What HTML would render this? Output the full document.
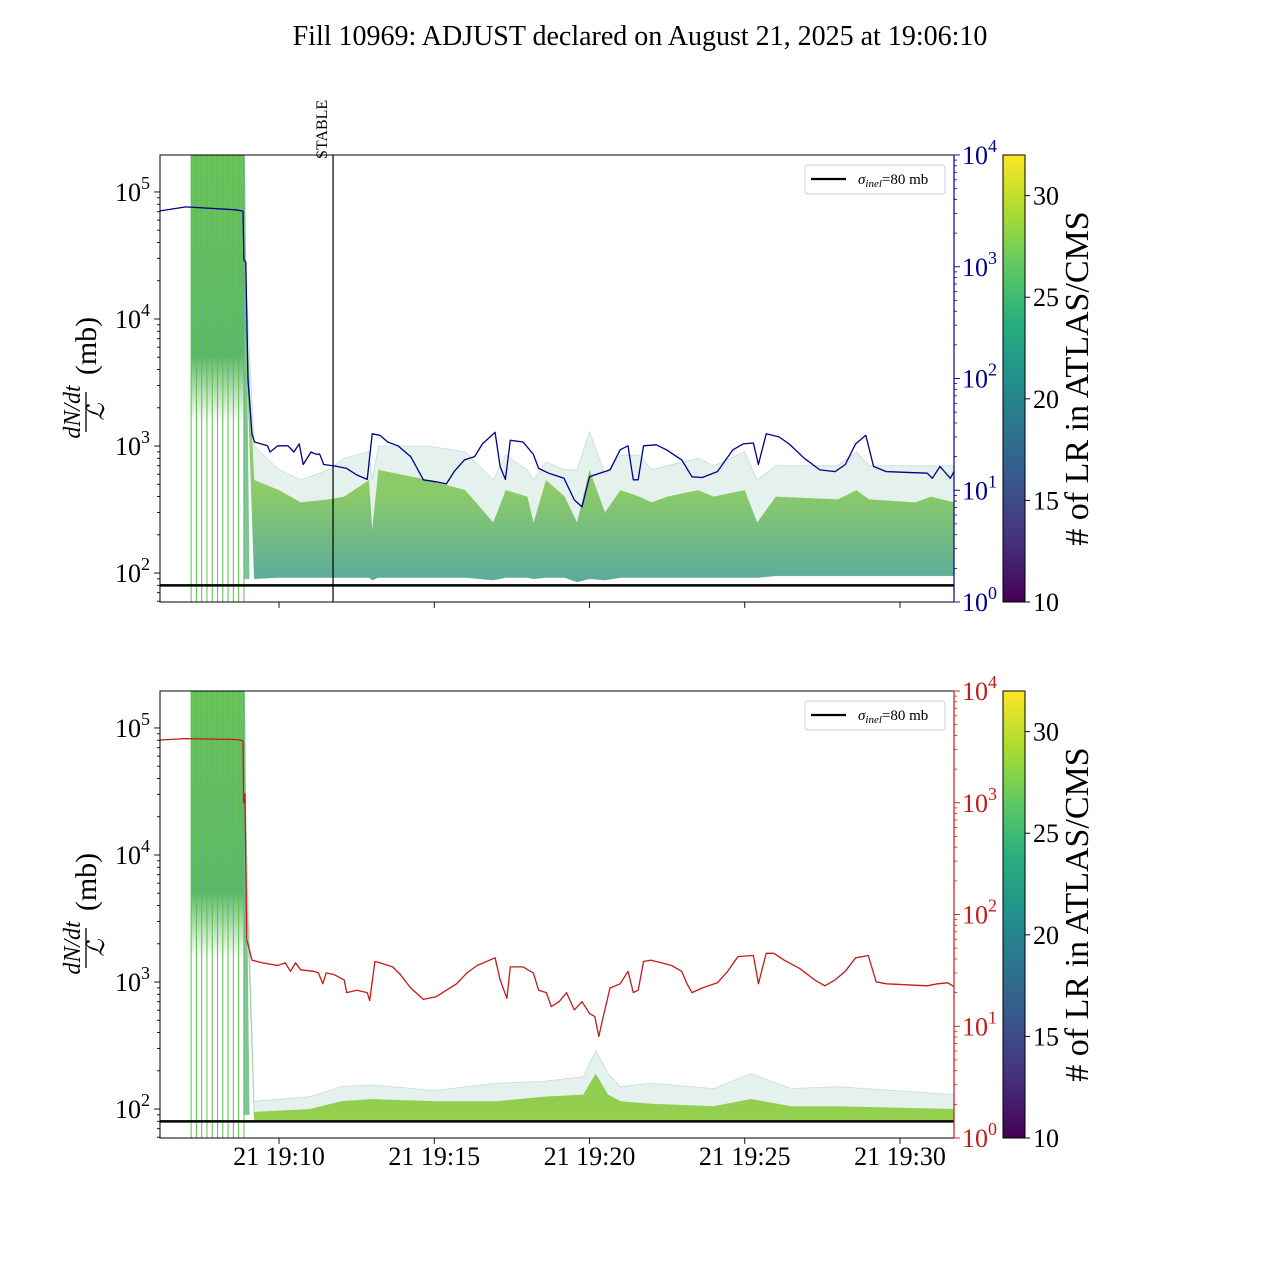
<!DOCTYPE html>
<html><head><meta charset="utf-8">
<style>
html,body{margin:0;padding:0;background:#fff;}
svg{display:block;font-family:"Liberation Serif","DejaVu Serif",serif;}
</style></head>
<body>
<svg id="chart" width="1280" height="1280" viewBox="0 0 1280 1280" xmlns="http://www.w3.org/2000/svg">
<defs>
<linearGradient id="viridis" x1="0" y1="1" x2="0" y2="0">
<stop offset="0" stop-color="#440154"/><stop offset="0.125" stop-color="#472d7b"/><stop offset="0.25" stop-color="#3b528b"/>
<stop offset="0.375" stop-color="#2c728e"/><stop offset="0.5" stop-color="#21918c"/><stop offset="0.625" stop-color="#28ae80"/>
<stop offset="0.75" stop-color="#5ec962"/><stop offset="0.875" stop-color="#addc30"/><stop offset="1" stop-color="#fde725"/>
</linearGradient>
<linearGradient id="coreGrad" x1="0" y1="0" x2="0" y2="1">
<stop offset="0" stop-color="#5fb87a" stop-opacity="0.55"/><stop offset="0.3" stop-color="#86c846" stop-opacity="0.85"/>
<stop offset="0.7" stop-color="#7cc450" stop-opacity="0.85"/><stop offset="1" stop-color="#3a9a88" stop-opacity="0.8"/>
</linearGradient>
<linearGradient id="coreGrad2" x1="0" y1="0" x2="0" y2="1">
<stop offset="0" stop-color="#4fb283" stop-opacity="0.7"/><stop offset="0.5" stop-color="#6cc24c" stop-opacity="0.9"/>
<stop offset="1" stop-color="#8ccc3c" stop-opacity="0.9"/>
</linearGradient>
<linearGradient id="spikeGrad" x1="0" y1="0" x2="0" y2="1">
<stop offset="0" stop-color="#6cc25c"/><stop offset="0.75" stop-color="#5cb870"/><stop offset="1" stop-color="#6cc25c" stop-opacity="0"/>
</linearGradient>
</defs>
<text x="640" y="45" text-anchor="middle" font-size="28">Fill 10969: ADJUST declared on August 21, 2025 at 19:06:10</text>
<g id="g"></g>
</svg>
<script>
// ---- data ----
const blueT=[6.17,7.0,8.6,8.84,8.87,8.93,9.0,9.13,9.21,9.63,9.71,9.96,10.29,10.48,10.65,10.78,11.03,11.19,11.31,11.44,11.77,12.18,12.51,12.84,13.0,13.25,13.5,13.83,14.24,14.65,15.06,15.39,15.64,15.97,16.3,16.55,16.96,17.12,17.29,17.45,17.86,18.19,18.36,18.69,19.18,19.51,19.76,20.0,20.33,20.66,20.99,21.24,21.41,21.57,21.74,22.15,22.48,22.97,23.3,23.63,24.12,24.62,24.95,25.28,25.44,25.69,26.1,26.43,26.92,27.42,27.91,28.24,28.57,28.9,29.15,29.56,30.88,31.04,31.29,31.62,31.74];
const blueV=[3160,3430,3230,3150,1150,1100,97,32,27,25,22,25,25,22,26,17,22,21,21,17,16.5,15.7,13.7,12.5,32,31,27,25,20,12.4,11.9,11.4,14.7,18.7,20,26,33,16.3,12.5,28,27,21,15.7,14.2,12.8,8.2,7.1,13.2,14.2,15.2,23,25,12.4,12.4,25,25.5,23,18.7,13.2,13,14.7,23,26,26.5,17,32,30,26,19.3,15.2,14.7,17,26,31,16.3,14.7,14.2,12.8,16.3,12.8,14.7];
const redT=[6.17,7.0,8.6,8.84,8.86,8.9,8.96,9.13,9.46,9.96,10.2,10.37,10.53,10.7,11.11,11.27,11.41,11.52,11.77,12.1,12.18,12.51,12.84,12.92,13.09,13.25,13.66,13.91,14.24,14.65,15.06,15.39,15.72,16.05,16.38,16.96,17.12,17.34,17.45,17.86,18.19,18.36,18.61,18.77,19.02,19.26,19.51,19.76,20.0,20.17,20.3,20.42,20.66,20.99,21.24,21.41,21.57,21.74,21.98,22.31,22.64,22.97,23.14,23.3,23.63,24.12,24.45,24.78,25.28,25.44,25.69,25.94,26.27,26.76,27.25,27.58,27.91,28.24,28.57,28.98,29.23,29.56,30.88,31.21,31.54,31.74];
const redV=[3640,3750,3680,3600,1000,1200,60,39,37,35,37,31,37,32,31,30,24,30,29,26,20,21,20,17,38,37,34,29,22,17.4,18.4,21,24,30,35,41,26,17.8,34,34,30,21,20,15,16.6,20,14,16.6,13,12.2,8.1,11.4,22,24,31,20,21,38,39,37,35,31,24,20,22,24.5,31,42,43,24,45,45,39,33,26,23,26,31,41,43,25,24,23,24,24.5,22.6];
const topBandT=[8.9,9.2,10.0,10.7,11.6,12.1,12.9,13.0,13.2,14.8,16.0,16.9,17.3,18.0,18.2,18.6,19.2,19.6,20.0,20.5,21.0,21.6,22.0,22.5,23.5,24.0,25.0,25.4,26.0,28.0,28.6,29.0,30.5,31.0,31.74];
const topBandHi=[30000,1000,650,540,650,800,900,540,1000,1000,900,540,850,650,540,750,650,650,1300,600,850,850,650,700,800,700,900,540,700,700,900,700,700,700,700];
const topBandCore=[20000,540,450,360,380,400,540,220,650,540,450,250,450,400,250,540,400,250,650,300,450,400,360,400,450,400,450,250,400,380,450,380,360,400,360];
const topBandLo=[12000,90,92,92,92,92,92,88,92,92,92,88,92,92,90,92,92,85,90,88,92,92,92,92,92,92,92,92,95,95,95,95,95,95,95];
const botBandT=[8.93,9.2,11.0,12.0,13.0,15.0,17.0,18.5,19.8,20.2,20.6,21.0,22.0,24.0,25.2,26.5,28.0,31.74];
const botBandHi=[20000,115,125,150,155,140,160,165,180,290,190,150,160,145,190,145,150,130];
const botBandCore=[12000,95,100,115,120,115,115,125,130,190,130,115,110,105,120,105,105,100];
const botBandLo=[8000,82,82,82,82,82,82,82,82,82,82,82,82,82,82,82,82,82];
const spikeLineT=[7.17,7.34,7.51,7.68,7.85,8.02,8.19,8.36,8.53,8.7,8.87];
const xTickT=[10,15,20,25,30];
const xTickLabels=["21 19:10","21 19:15","21 19:20","21 19:25","21 19:30"];
const cbTicks=[10,15,20,25,30];
const sigmaInel=80;
const stableT=11.74;

// ---- scales ----
const X0=160,X1=954,TMIN=6.167,TMAX=31.74;
const panels=[{y0:155,y1:602,name:'top'},{y0:691,y1:1138,name:'bottom'}];
const LMIN=1.772,LMAX=5.291;
function xS(t){return X0+(t-TMIN)*(X1-X0)/(TMAX-TMIN);}
function yL(v,p){let y=p.y1-(Math.log10(v)-LMIN)/(LMAX-LMIN)*(p.y1-p.y0);return Math.max(p.y0,Math.min(p.y1,y));}
function yR(v,p){return p.y1-Math.log10(v)/4*(p.y1-p.y0);}
function cbY(v,p){return p.y1-(v-10)/22*(p.y1-p.y0);}

const NS='http://www.w3.org/2000/svg';
const G=document.getElementById('g');
function mk(tag,attrs,parent){const e=document.createElementNS(NS,tag);for(const k in attrs)e.setAttribute(k,attrs[k]);(parent||G).appendChild(e);return e;}

function bandPath(T,upper,lower,p){
  let d='';
  for(let i=0;i<T.length;i++)d+=(i?'L':'M')+xS(T[i]).toFixed(1)+','+yL(upper[i],p).toFixed(1);
  for(let i=T.length-1;i>=0;i--)d+='L'+xS(T[i]).toFixed(1)+','+yL(lower[i],p).toFixed(1);
  return d+'Z';
}
function linePath(T,V,f,p){let d='';for(let i=0;i<T.length;i++)d+=(i?'L':'M')+xS(T[i]).toFixed(1)+','+f(V[i],p).toFixed(1);return d;}

panels.forEach((p,pi)=>{
  const clipId='clip'+pi;
  const cp=mk('clipPath',{id:clipId});
  mk('rect',{x:X0,y:p.y0,width:X1-X0,height:p.y1-p.y0},cp);
  const plot=mk('g',{'clip-path':'url(#'+clipId+')'});
  
  
  const sx0=xS(spikeLineT[0]),sx1=xS(spikeLineT[spikeLineT.length-1]);
  const sp=mk('rect',{x:sx0,y:p.y0,width:sx1-sx0,height:yL(1500,p)-p.y0,fill:'url(#spikeGrad)'},plot);
  
  
  spikeLineT.forEach(t=>{
    const l=mk('line',{x1:xS(t),x2:xS(t),y1:p.y0,y2:p.y1,stroke:'#5cbf4a','stroke-width':1},plot);
    
    
  });
  const T=pi?botBandT:topBandT,H=pi?botBandHi:topBandHi,C=pi?botBandCore:topBandCore,L=pi?botBandLo:topBandLo;
  const faint=mk('path',{d:bandPath(T,H,L,p),fill:'#a8cfc2','fill-opacity':0.3,stroke:'#8fb5c0','stroke-opacity':0.4,'stroke-width':0.8},plot);
  
  
  const core=mk('path',{d:bandPath(T,C,L,p),fill:pi?'url(#coreGrad2)':'url(#coreGrad)'},plot);
  
  
  const drop=mk('path',{d:'M'+sx1+','+p.y0+'L'+xS(8.9)+','+p.y0+'L'+xS(9.05)+','+yL(90,p)+'L'+sx1+','+yL(90,p)+'Z',fill:'#5cb878','fill-opacity':0.8},plot);
  
  
  const sl=mk('line',{x1:X0,x2:X1,y1:yL(sigmaInel,p),y2:yL(sigmaInel,p),stroke:'#000','stroke-width':2.5},plot);
  
  
  const rc=pi?'#c41a1a':'#00008b';
  const ln=mk('path',{d:linePath(pi?redT:blueT,pi?redV:blueV,yR,p),fill:'none',stroke:rc,'stroke-width':1.3,'stroke-linejoin':'round'},plot);
  
  
  if(pi===0){
    const st=mk('line',{x1:xS(stableT),x2:xS(stableT),y1:p.y0,y2:p.y1,stroke:'#000','stroke-width':1.2});
    
    
    const stt=mk('text',{x:0,y:0,'font-size':16,transform:'translate('+(xS(stableT)-6)+',159) rotate(-90)'});
    stt.textContent='STABLE';
    
    
  }
  const fr=mk('rect',{x:X0,y:p.y0,width:X1-X0,height:p.y1-p.y0,fill:'none',stroke:'#000','stroke-width':1});
  
  
  mk('line',{x1:X1,x2:X1,y1:p.y0,y2:p.y1,stroke:rc,'stroke-width':1.2});
  for(let e=1;e<=5;e++){for(let m=1;m<10;m++){const v=m*Math.pow(10,e);const lv=Math.log10(v);if(lv<LMIN||lv>LMAX)continue;
    const y=yL(v,p);mk('line',{x1:X0,x2:X0-(m===1?6:3),y1:y,y2:y,stroke:'#000','stroke-width':0.9});}
    if(e>=2){const y=yL(Math.pow(10,e),p);const t=mk('text',{x:X0-10,y:y+9,'text-anchor':'end','font-size':26});
      t.innerHTML='10<tspan dy="-12" font-size="18">'+e+'</tspan>';
      
      }}
  for(let e=0;e<=4;e++){const y=yR(Math.pow(10,e),p);
    const t=mk('text',{x:X1+8,y:y+9,'font-size':26,fill:rc});
    t.innerHTML='10<tspan dy="-12" font-size="18">'+e+'</tspan>';
    
    
    mk('line',{x1:X1,x2:X1+6,y1:y,y2:y,stroke:rc,'stroke-width':0.9});
    if(e<4)for(let m=2;m<10;m++){const yy=yR(m*Math.pow(10,e),p);mk('line',{x1:X1,x2:X1+3,y1:yy,y2:yy,stroke:rc,'stroke-width':0.8});}}
  xTickT.forEach((t,i)=>{const x=xS(t);mk('line',{x1:x,x2:x,y1:p.y1,y2:p.y1+6,stroke:'#000','stroke-width':0.9});
    if(pi===1){const tx=mk('text',{x:x,y:p.y1+27,'text-anchor':'middle','font-size':26});tx.textContent=xTickLabels[i];
      
      }});
  // y label (rotated frame: x = -screenY, y = screenX)
  const off=p.y0-155;
  const yl=mk('g',{transform:'rotate(-90)'});
  
  
  mk('text',{x:-(412+off),y:80,'text-anchor':'middle','font-size':24,'font-style':'italic'},yl).textContent='dN/dt';
  mk('line',{x1:-(432+off),x2:-(392+off),y1:86,y2:86,stroke:'#000','stroke-width':1.3},yl);
  mk('text',{x:-(412+off),y:104,'text-anchor':'middle','font-size':24,'font-style':'italic'},yl).textContent='ℒ';
  mk('text',{x:-(346+off),y:96,'text-anchor':'middle','font-size':30},yl).textContent='(mb)';
  const lg=mk('g',{});
  
  
  mk('rect',{x:805,y:p.y0+10,width:140,height:29,rx:3,fill:'#fff',stroke:'#d0d0d0'},lg);
  mk('line',{x1:811,x2:846,y1:p.y0+24,y2:p.y0+24,stroke:'#000','stroke-width':2.2},lg);
  const lt=mk('text',{x:858,y:p.y0+29,'font-size':15},lg);
  lt.innerHTML='<tspan font-style="italic">σ</tspan><tspan font-size="11" dy="3" font-style="italic">inel</tspan><tspan dy="-3">=80 mb</tspan>';
  const cb=mk('rect',{x:1003,y:p.y0,width:22,height:p.y1-p.y0,fill:'url(#viridis)',stroke:'#000','stroke-width':1});
  
  
  cbTicks.forEach(v=>{const y=cbY(v,p);mk('line',{x1:1025,x2:1030,y1:y,y2:y,stroke:'#000'});
    const t=mk('text',{x:1033,y:y+9,'font-size':26});t.textContent=v;
    
    });
  const cy=(p.y0+p.y1)/2;
  const ct=mk('text',{x:0,y:0,'font-size':34,'text-anchor':'middle',transform:'translate(1088,'+cy+') rotate(-90)'});
  ct.textContent='# of LR in ATLAS/CMS';
  
  
});
</script>
</body></html>
